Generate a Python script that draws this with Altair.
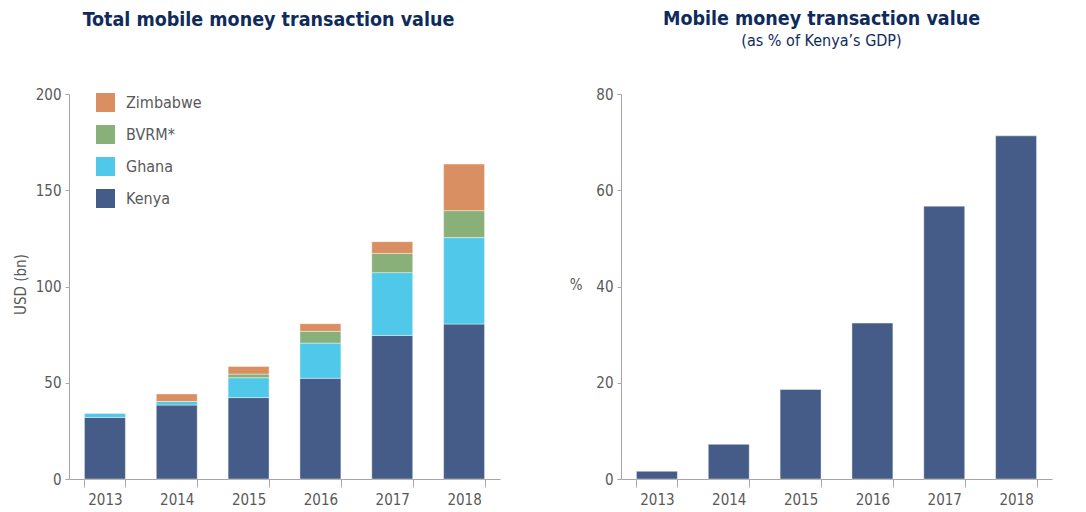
import altair as alt
import pandas as pd

# ---- data ----
years = ["2013", "2014", "2015", "2016", "2017", "2018"]
kenya = [32.0, 38.4, 42.3, 52.3, 74.6, 80.5]
ghana = [2.3, 1.9, 10.3, 18.3, 32.6, 44.9]
bvrm = [0.0, 0.0, 1.9, 6.1, 10.0, 14.0]
zimbabwe = [0.0, 3.9, 4.0, 4.0, 6.1, 24.2]
gdp_share = [1.6, 7.2, 18.6, 32.4, 56.7, 71.3]

series_names = ["Kenya", "Ghana", "BVRM*", "Zimbabwe"]
legend_order = ["Zimbabwe", "BVRM*", "Ghana", "Kenya"]
legend_colors = ["#d98f62", "#8ab07a", "#4fc8ea", "#445c87"]
left_ticks = [0, 50, 100, 150, 200]
right_ticks = [0, 20, 40, 60, 80]

# ---- tables ----
rows = []
for si, (name, vals) in enumerate(zip(series_names, [kenya, ghana, bvrm, zimbabwe])):
    for y, v in zip(years, vals):
        rows.append({"year": y, "series": name, "value": v, "stack_order": si})
stack_df = pd.DataFrame(rows)
gdp_df = pd.DataFrame({"year": years, "share": gdp_share})

FONT = "DejaVu Sans Condensed"
TEXT = "#595959"
AXIS = "#a6a6a6"
NAVY = "#0f2b5b"
BAR = "#445c87"


def x_enc():
    return alt.X(
        "year:N", title=None,
        scale=alt.Scale(paddingInner=0.43, paddingOuter=0.215),
        axis=alt.Axis(labelAngle=0, tickBand="extent", tickSize=8, domainColor=AXIS,
                      tickColor=AXIS, labelFont=FONT, labelFontSize=15, labelColor=TEXT,
                      labelPadding=5),
    )


def y_axis(values, title, angle, tx, ta, tb):
    return alt.Axis(values=values, grid=False, tickSize=4, domainColor=AXIS, tickColor=AXIS,
                    labelFont=FONT, labelFontSize=15, labelColor=TEXT, labelPadding=4,
                    title=title, titleFont=FONT, titleFontSize=15, titleFontWeight="normal",
                    titleColor=TEXT, titleAngle=angle, titleX=tx, titleY=190,
                    titleAlign=ta, titleBaseline=tb)


left = alt.Chart(stack_df).mark_bar(stroke="white", strokeWidth=0.6, strokeOpacity=0.7).encode(
    x=x_enc(),
    y=alt.Y("value:Q", stack="zero",
            scale=alt.Scale(domain=[0, 200], nice=False),
            axis=y_axis(left_ticks, "USD (bn)", 270, -49, "center", "middle")),
    color=alt.Color("series:N",
                    scale=alt.Scale(domain=legend_order, range=legend_colors),
                    legend=alt.Legend(orient="none", legendX=27, legendY=-1, title=None,
                                      symbolType="square", symbolSize=361,
                                      symbolStrokeWidth=0, labelFont=FONT,
                                      labelFontSize=16, labelColor=TEXT,
                                      rowPadding=13, labelOffset=11)),
    order=alt.Order("stack_order:Q", sort="ascending"),
).properties(
    width=431, height=385,
    title=alt.Title("Total mobile money transaction value", font=FONT, fontSize=19.5,
                    fontWeight="bold", color=NAVY, anchor="middle", dx=-16, offset=57),
)

right = alt.Chart(gdp_df).mark_bar(color=BAR, stroke="white", strokeWidth=0.6,
                                   strokeOpacity=0.7).encode(
    x=x_enc(),
    y=alt.Y("share:Q", scale=alt.Scale(domain=[0, 80], nice=False),
            axis=y_axis(right_ticks, "%", 0, -39, "right", "middle")),
).properties(
    width=431, height=385,
    title=alt.Title("Mobile money transaction value", subtitle="(as % of Kenya’s GDP)",
                    font=FONT, fontSize=19.5, fontWeight="bold", color=NAVY,
                    subtitleFont=FONT, subtitleFontSize=16, subtitleColor=NAVY,
                    subtitlePadding=4, anchor="middle", dx=-15, offset=37),
)

chart = alt.hconcat(left, right, spacing=121, bounds="flush").properties(
    padding={"left": 5, "top": 0, "right": 5, "bottom": 0}
).configure_view(stroke=None)

chart.save("out.html", embed_options={"renderer": "svg", "actions": False})
